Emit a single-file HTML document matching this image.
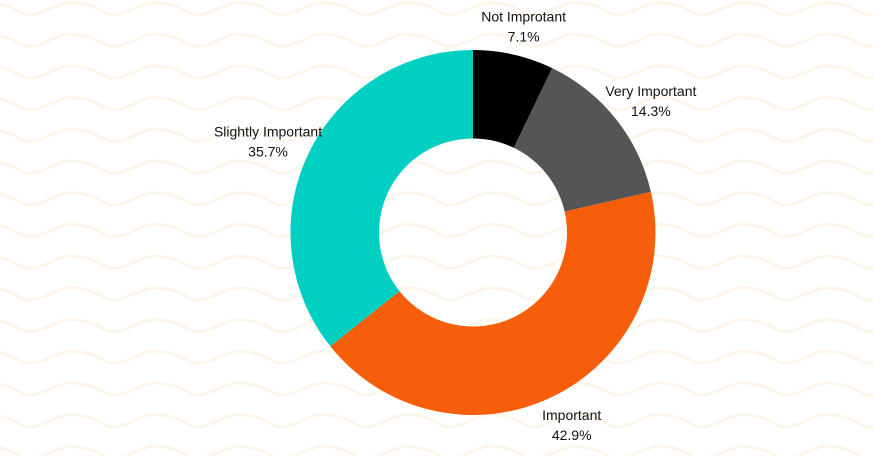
<!DOCTYPE html>
<html><head><meta charset="utf-8"><style>
html,body{margin:0;padding:0;background:#fff}
svg{display:block;font-family:"Liberation Sans",Arial,sans-serif}
</style></head><body>
<svg id="chart" width="873" height="456" viewBox="0 0 873 456">
<defs>
<pattern id="waves" x="0" y="0" width="84" height="31.7" patternUnits="userSpaceOnUse">
<path d="M-42 12 C-21 0,-21 0,0 4 S21 20,42 12 S63 0,84 4 S105 20,126 12" fill="none" stroke="#fcf5ea" stroke-width="3"/>
</pattern>
</defs>
<rect width="873" height="456" fill="url(#waves)"/>
<g id="slices"></g>
<g id="labels"></g>
</svg>
<script>
const categories = ["Not Improtant", "Very Important", "Important", "Slightly Important"];
const values = [1, 2, 6, 5];
const percentLabels = ["7.1%", "14.3%", "42.9%", "35.7%"];
const colors = ["#000000", "#555555", "#f65e0c", "#00cfc2"];
const cx = 473, cy = 232.5, R = 182.5, r = 94;
const NS = "http://www.w3.org/2000/svg";
const total = values.reduce((a, b) => a + b, 0);
function pt(rad, ang) { return [cx + rad * Math.sin(ang), cy - rad * Math.cos(ang)]; }
const gS = document.getElementById("slices"), gL = document.getElementById("labels");
let acc = 0;
values.forEach((v, i) => {
  const a0 = acc / total * 2 * Math.PI; acc += v;
  const a1 = acc / total * 2 * Math.PI;
  const large = (a1 - a0) > Math.PI ? 1 : 0;
  const [x0, y0] = pt(R, a0), [x1, y1] = pt(R, a1), [x2, y2] = pt(r, a1), [x3, y3] = pt(r, a0);
  const p = document.createElementNS(NS, "path");
  p.setAttribute("d", `M${x0} ${y0} A${R} ${R} 0 ${large} 1 ${x1} ${y1} L${x2} ${y2} A${r} ${r} 0 ${large} 0 ${x3} ${y3} Z`);
  p.setAttribute("fill", colors[i]);
  
  
  gS.appendChild(p);
  const m = (a0 + a1) / 2;
  const lx = cx + (R + 45) * Math.sin(m), ly = cy - (R + 30) * Math.cos(m);
  const t = document.createElementNS(NS, "text");
  t.setAttribute("x", lx); t.setAttribute("y", ly - 4);
  t.setAttribute("text-anchor", "middle"); t.setAttribute("font-size", "14"); t.setAttribute("fill", "#111");
  t.textContent = categories[i];
  
  
  gL.appendChild(t);
  const t2 = document.createElementNS(NS, "text");
  t2.setAttribute("x", lx); t2.setAttribute("y", ly + 16);
  t2.setAttribute("text-anchor", "middle"); t2.setAttribute("font-size", "14"); t2.setAttribute("fill", "#111");
  t2.textContent = percentLabels[i];
  
  
  gL.appendChild(t2);
});
</script>
</body></html>
